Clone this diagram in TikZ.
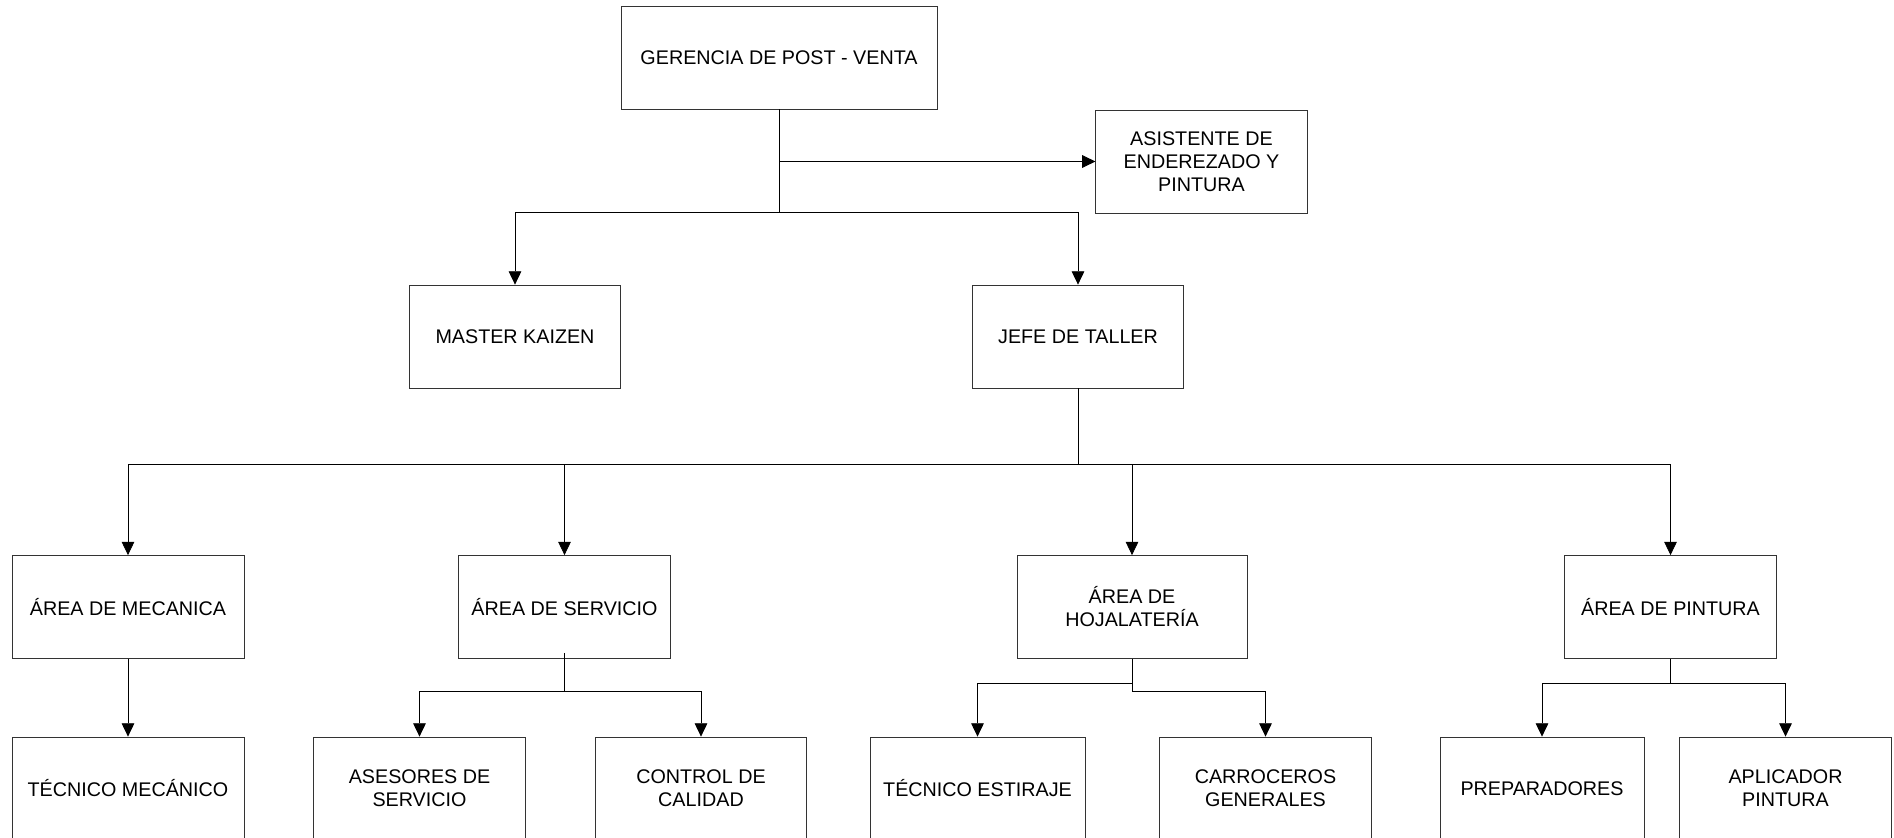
\documentclass[tikz,border=0pt]{standalone}
\usepackage{fontspec}
\setmainfont{Liberation Sans}
\usetikzlibrary{arrows.meta}

\tikzset{
	cargo/.style={draw=black!80, line width=0.6pt, minimum width=158.5pt, minimum height=77.25pt, inner sep=0pt, align=center, font=\fontsize{14.8}{17.3}\selectfont},
	linea/.style={line width=0.6pt},
	flecha/.style={linea, -{Triangle[width=9.5pt,length=10pt]}}
}

\begin{document}
\begin{tikzpicture}[x=0.75pt,y=0.75pt,yscale=-1,xscale=1]
		\useasboundingbox (0,0) rectangle (1894,838);

		% Top level
		\node[cargo, minimum width=237pt] (ger) at (779,57.5) {GERENCIA DE POST - VENTA};
		\node[cargo] (asist) at (1201.5,161.5) {ASISTENTE DE\\ENDEREZADO Y\\PINTURA};

		% Second level
		\node[cargo] (master) at (515,336.5) {MASTER KAIZEN};
		\node[cargo] (jefe) at (1078,336.5) {JEFE DE TALLER};

		% Areas
		\node[cargo, minimum width=174pt] (meca) at (128,607) {ÁREA DE MECANICA};
		\node[cargo] (serv) at (564.5,607) {ÁREA DE SERVICIO};
		\node[cargo, minimum width=172.5pt] (hoja) at (1132,607) {ÁREA DE\\HOJALATERÍA};
		\node[cargo] (pint) at (1670.5,607) {ÁREA DE PINTURA};

		% Staff of each area (boxes run past the bottom edge)
		\node[cargo, minimum width=174pt] (tmec) at (128,788.5) {TÉCNICO MECÁNICO};
		\node[cargo] (ases) at (419.5,788.5) {ASESORES DE\\SERVICIO};
		\node[cargo] (ctrl) at (701,788.5) {CONTROL DE\\CALIDAD};
		\node[cargo, minimum width=161.25pt] (esti) at (977.5,788.5) {TÉCNICO ESTIRAJE};
		\node[cargo] (carro) at (1265.5,788.5) {CARROCEROS\\GENERALES};
		\node[cargo, minimum width=153pt] (prep) at (1542,788.5) {PREPARADORES};
		\node[cargo] (apli) at (1785.5,788.5) {APLICADOR\\PINTURA};

		% Branch points
		\coordinate (ramaA) at (779,161.5);
		\coordinate (busA) at (779,212.6);
		\coordinate (busB) at (1078,464);
		\coordinate (busS) at (564.5,691);
		\coordinate (busH1) at (1132,683.7);
		\coordinate (busH2) at (1132,691);
		\coordinate (busP) at (1670.5,683.7);

		% Gerencia connectors
		\draw[linea] (ger.south) -- (busA);
		\draw[flecha] (ramaA) -- (asist.west);
		\draw[flecha] (busA) -| (master);
		\draw[flecha] (busA) -| (jefe);

		% Jefe de taller to the areas
		\draw[linea] (jefe.south) -- (busB);
		\draw[flecha] (busB) -| (meca);
		\draw[flecha] (busB) -| (serv);
		\draw[flecha] (busB) -| (hoja);
		\draw[flecha] (busB) -| (pint);

		% Areas to their staff
		\draw[flecha] (meca) -- (tmec);
		\draw[linea] ([yshift=-4.5pt]serv.south) -- (busS);
		\draw[flecha] (busS) -| (ases);
		\draw[flecha] (busS) -| (ctrl);
		\draw[linea] (hoja.south) -- (busH2);
		\draw[flecha] (busH1) -| (esti);
		\draw[flecha] (busH2) -| (carro);
		\draw[linea] (pint.south) -- (busP);
		\draw[flecha] (busP) -| (prep);
		\draw[flecha] (busP) -| (apli);
\end{tikzpicture}
\end{document}
